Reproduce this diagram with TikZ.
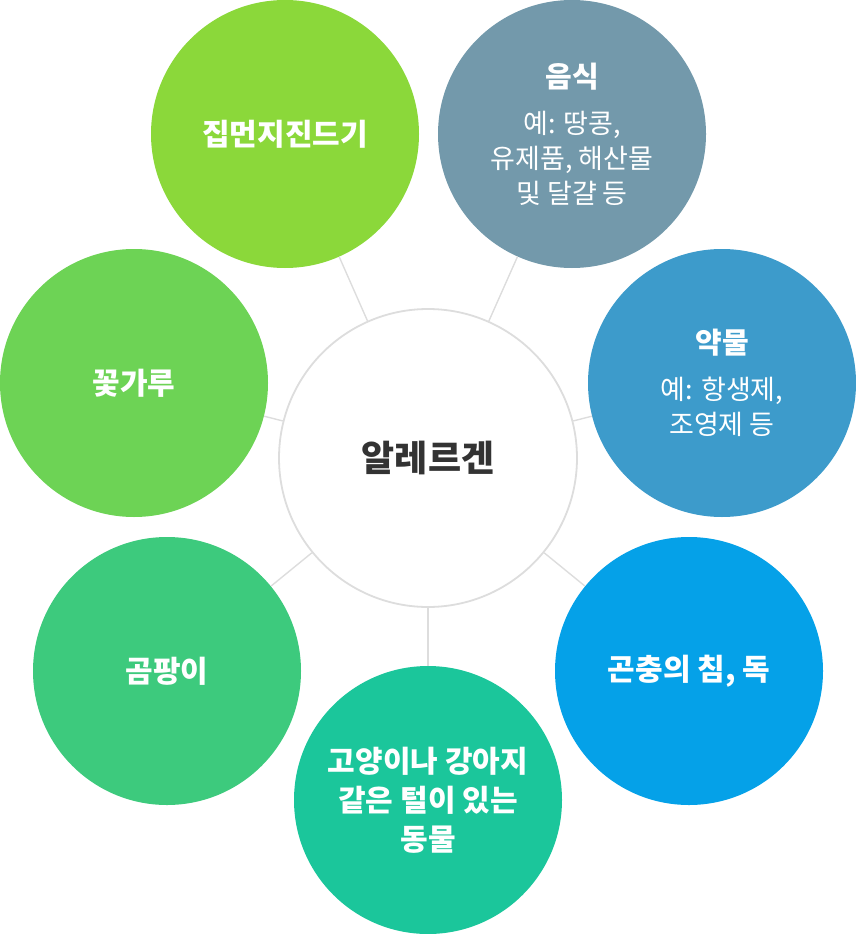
\documentclass[tikz,border=0pt]{standalone}
\usepackage{fontspec}
\setmainfont{Noto Sans CJK KR}
\definecolor{cDust}{HTML}{8BD83A}
\definecolor{cFood}{HTML}{7399AB}
\definecolor{cDrug}{HTML}{3D9BCB}
\definecolor{cBug}{HTML}{05A1E8}
\definecolor{cPet}{HTML}{1BC69B}
\definecolor{cMold}{HTML}{3DCA7D}
\definecolor{cPollen}{HTML}{6DD355}
\definecolor{cLine}{HTML}{DDDDDD}
\definecolor{cText}{HTML}{333333}
\tikzset{
  outer/.style={circle, minimum size=268pt, inner sep=0pt, text=white, align=center,
    font=\fontsize{30}{39}\selectfont\bfseries},
  hub/.style={circle, minimum size=298pt, inner sep=0pt, draw=cLine, line width=1.8pt, fill=white,
    text=cText, font=\fontsize{36}{40}\selectfont\bfseries},
  link/.style={draw=cLine, line width=1.4pt},
}
\newcommand{\subtxt}{\fontsize{27}{35}\selectfont\mdseries}
\begin{document}
\begin{tikzpicture}[x=1pt,y=-1pt]
\useasboundingbox (0,0) rectangle (856,934);
\node[hub] (c0) at (428,458) {알레르겐};
\node[outer, fill=cDust] (c1) at (285,134) {집먼지진드기};
\node[outer, fill=cFood, font=\fontsize{29}{35}\selectfont\bfseries] (c2) at (572,134) {음식\\[11pt]\subtxt 예: 땅콩,\\\subtxt 유제품, 해산물\\\subtxt 및 달걀 등};
\node[outer, fill=cDrug, font=\fontsize{29}{35}\selectfont\bfseries] (c3) at (722,383) {약물\\[11pt]\subtxt 예: 항생제,\\\subtxt 조영제 등};
\node[outer, fill=cBug] (c4) at (689,671) {곤충의 침, 독};
\node[outer, fill=cPet] (c5) at (428,800) {고양이나 강아지\\같은 털이 있는\\동물};
\node[outer, fill=cMold] (c6) at (167,671) {곰팡이};
\node[outer, fill=cPollen] (c7) at (134,383) {꽃가루};
\foreach \i in {1,...,7} { \draw[link] (c0) -- (c\i); }
\end{tikzpicture}
\end{document}
